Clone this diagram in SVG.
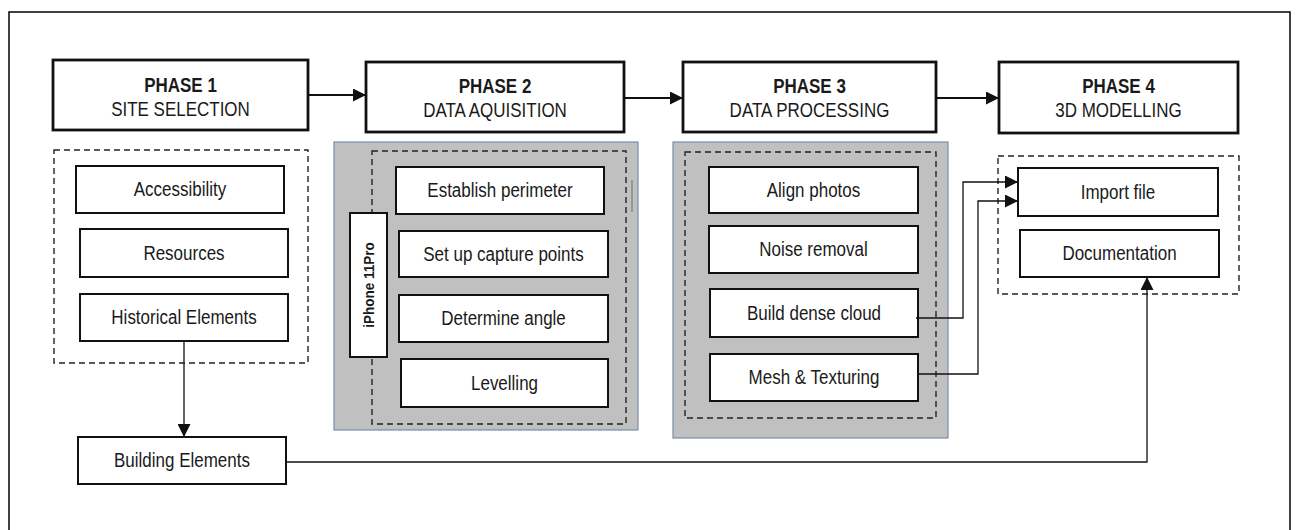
<svg xmlns="http://www.w3.org/2000/svg" width="1296" height="530" viewBox="0 0 1296 530">
  <defs>
    <marker id="arrow-lg" viewBox="0 0 12 12" refX="12" refY="6" markerWidth="13" markerHeight="13" markerUnits="userSpaceOnUse" orient="auto">
      <path d="M0,0 L12,6 L0,12 Z" fill="#111"/>
    </marker>
  </defs>
  <style>
    .frame { fill: #fff; stroke: #111; stroke-width: 1.6; }
    .phase { fill: #fff; stroke: #111; stroke-width: 2.8; }
    .item { fill: #fff; stroke: #111; stroke-width: 2; }
    .group { fill: none; stroke: #222; stroke-width: 1.4; stroke-dasharray: 6 4; }
    .panel { fill: #c0c0c0; stroke: #7a8ea8; stroke-width: 1.2; }
    .title { font-family: "Liberation Sans", Arial, sans-serif; font-size: 17px; font-weight: bold; fill: #1a1a1a; text-anchor: middle; }
    .sub { font-family: "Liberation Sans", Arial, sans-serif; font-size: 17px; fill: #1a1a1a; text-anchor: middle; }
    .label { font-family: "Liberation Sans", Arial, sans-serif; font-size: 17px; fill: #1a1a1a; text-anchor: middle; }
    .vlabel { font-family: "Liberation Sans", Arial, sans-serif; font-size: 13.5px; font-weight: bold; fill: #1a1a1a; text-anchor: middle; }
    .link { fill: none; stroke: #111; stroke-width: 1.3; }
    .flow { fill: none; stroke: #111; stroke-width: 2.2; }
  </style>

  <!-- outer frame (runs past the bottom edge) -->
  <rect class="frame" x="9" y="12" width="1281" height="540"/>

  <!-- phase headers -->
  <g id="phase1">
    <rect class="phase" x="53" y="60" width="255" height="70"/>
    <text class="title" transform="translate(180.5 92) scale(1 1.15)">PHASE 1</text>
    <text class="sub" transform="translate(180.5 116) scale(1 1.15)">SITE SELECTION</text>
  </g>
  <g id="phase2">
    <rect class="phase" x="366" y="62" width="258" height="70"/>
    <text class="title" transform="translate(495 93) scale(1 1.15)">PHASE 2</text>
    <text class="sub" transform="translate(495 117) scale(1 1.15)">DATA AQUISITION</text>
  </g>
  <g id="phase3">
    <rect class="phase" x="683" y="62" width="253" height="70"/>
    <text class="title" transform="translate(809.5 93) scale(1 1.15)">PHASE 3</text>
    <text class="sub" transform="translate(809.5 117) scale(1 1.15)">DATA PROCESSING</text>
  </g>
  <g id="phase4">
    <rect class="phase" x="999" y="62" width="239" height="71"/>
    <text class="title" transform="translate(1118.5 93) scale(1 1.15)">PHASE 4</text>
    <text class="sub" transform="translate(1118.5 117) scale(1 1.15)">3D MODELLING</text>
  </g>

  <!-- phase 1 group -->
  <g id="site-criteria">
    <rect class="group" x="54" y="150" width="254" height="213"/>
  </g>
  <g id="accessibility">
    <rect class="item" x="76" y="166" width="208" height="47"/>
    <text class="label" transform="translate(180 196) scale(1 1.15)">Accessibility</text>
  </g>
  <g id="resources">
    <rect class="item" x="80" y="229" width="208" height="48"/>
    <text class="label" transform="translate(184 259.5) scale(1 1.15)">Resources</text>
  </g>
  <g id="historical-elements">
    <rect class="item" x="80" y="294" width="208" height="47"/>
    <text class="label" transform="translate(184 323.5) scale(1 1.15)">Historical Elements</text>
  </g>
  <g id="building-elements">
    <rect class="item" x="78" y="437" width="208" height="47"/>
    <text class="label" transform="translate(182 466.5) scale(1 1.15)">Building Elements</text>
  </g>

  <!-- phase 2 panel -->
  <g id="acquisition-panel">
    <rect class="panel" x="334" y="142" width="304" height="288"/>
    <rect class="group" x="372" y="151" width="254" height="273"/>
    <line x1="632" y1="180" x2="632" y2="212" stroke="#8a8a8a" stroke-width="1.5"/>
  </g>
  <g id="establish-perimeter">
    <rect class="item" x="396" y="167" width="208" height="47"/>
    <text class="label" transform="translate(500 197) scale(1 1.15)">Establish perimeter</text>
  </g>
  <g id="capture-points">
    <rect class="item" x="399" y="231" width="209" height="46"/>
    <text class="label" transform="translate(503.5 260.5) scale(1 1.15)">Set up capture points</text>
  </g>
  <g id="determine-angle">
    <rect class="item" x="399" y="295" width="209" height="47"/>
    <text class="label" transform="translate(503.5 325) scale(1 1.15)">Determine angle</text>
  </g>
  <g id="levelling">
    <rect class="item" x="401" y="359" width="207" height="48"/>
    <text class="label" transform="translate(504.5 389.5) scale(1 1.15)">Levelling</text>
  </g>
  <g id="iphone">
    <rect class="item" x="350" y="213" width="37" height="144"/>
    <text class="vlabel" transform="translate(373.5 285) rotate(-90) scale(1 1.1)">iPhone 11Pro</text>
  </g>

  <!-- phase 3 panel -->
  <g id="processing-panel">
    <rect class="panel" x="673" y="142" width="275" height="296"/>
    <rect class="group" x="685" y="152" width="251" height="266"/>
  </g>
  <g id="align-photos">
    <rect class="item" x="709" y="167" width="209" height="46"/>
    <text class="label" transform="translate(813.5 196.5) scale(1 1.15)">Align photos</text>
  </g>
  <g id="noise-removal">
    <rect class="item" x="709" y="226" width="209" height="47"/>
    <text class="label" transform="translate(813.5 256) scale(1 1.15)">Noise removal</text>
  </g>
  <g id="dense-cloud">
    <rect class="item" x="710" y="289" width="208" height="48"/>
    <text class="label" transform="translate(814 319.5) scale(1 1.15)">Build dense cloud</text>
  </g>
  <g id="mesh-texturing">
    <rect class="item" x="710" y="354" width="208" height="47"/>
    <text class="label" transform="translate(814 384) scale(1 1.15)">Mesh &amp; Texturing</text>
  </g>

  <!-- phase 4 group -->
  <g id="modelling-group">
    <rect class="group" x="998" y="156" width="241" height="138"/>
  </g>
  <g id="import-file">
    <rect class="item" x="1018" y="168" width="200" height="48"/>
    <text class="label" transform="translate(1118 198.5) scale(1 1.15)">Import file</text>
  </g>
  <g id="documentation">
    <rect class="item" x="1020" y="230" width="199" height="47"/>
    <text class="label" transform="translate(1119.5 260) scale(1 1.15)">Documentation</text>
  </g>

  <!-- connectors -->
  <g id="connectors">
    <line class="flow" x1="308" y1="95" x2="366" y2="95" marker-end="url(#arrow-lg)"/>
    <line class="flow" x1="624" y1="98" x2="683" y2="98" marker-end="url(#arrow-lg)"/>
    <line class="flow" x1="936" y1="98" x2="999" y2="98" marker-end="url(#arrow-lg)"/>
    <line class="link" x1="184" y1="341" x2="184" y2="437" marker-end="url(#arrow-lg)"/>
    <polyline class="link" points="916,318 963,318 963,182 1018,182" marker-end="url(#arrow-lg)"/>
    <polyline class="link" points="918,374 978,374 978,201 1018,201" marker-end="url(#arrow-lg)"/>
    <polyline class="link" points="286,462 1147,462 1147,277" marker-end="url(#arrow-lg)"/>
  </g>
</svg>
